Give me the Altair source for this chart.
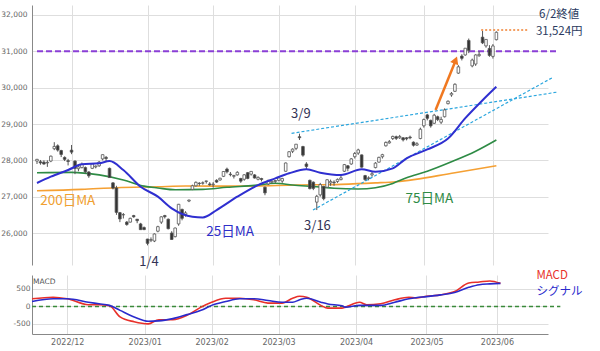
import altair as alt
import pandas as pd

# ---------------- data (trading-day index: 0 = 2022/12/01) ----------------
first_idx = -10
# Nov 2022 (10), Dec (22), Jan (19), Feb (19), Mar (22), Apr (20), May (20), Jun (2)
opens = [27980, 27960, 27950, 27930, 27980, 28320, 28400, 28270, 28080, 27990,
         28280, 27980, 27770, 27800, 27800, 27680, 27780, 27820, 27850, 28040, 28080, 27780, 27380, 27240, 26560, 26500, 26300, 26300, 26480, 26380, 26250, 26150,
         25834, 25800, 25780, 26050, 26300, 26480, 26380, 26000, 25900, 26250, 26650, 26500, 26880, 27200, 27300, 27370, 27370, 27420, 27350,
         27330, 27450, 27460, 27560, 27760, 27620, 27560, 27600, 27500, 27480, 27660, 27620, 27600, 27480, 27500, 27260, 27350, 27400, 27420,
         27450, 27430, 27700, 28100, 28250, 28330, 28650, 28380, 27900, 27450, 27400, 26850, 27050, 27280, 27260, 27380, 27400, 27420, 27470, 27700, 27850, 27900,
         28100, 28200, 28150, 27580, 27500, 27600, 27800, 27950, 28100, 28400, 28480, 28600, 28650, 28620, 28620, 28620, 28640, 28500, 28420, 28600,
         28950, 29250, 29100, 29020, 29200, 29050, 29200, 29560, 29800, 29900, 30400, 30870, 30900, 31300, 30600, 30650, 30880, 31390, 31150, 31080,
         30860, 31320]
highs = [28040, 28010, 28000, 28000, 28130, 28500, 28440, 28290, 28110, 28040,
         28423, 28000, 27880, 27940, 27830, 27700, 27920, 27860, 27980, 28160, 28120, 27800, 27400, 27300, 26580, 26550, 26330, 26420, 26500, 26380, 26280, 26180,
         25840, 25880, 25990, 26200, 26460, 26500, 26400, 26050, 26150, 26800, 26670, 26600, 26920, 27330, 27420, 27400, 27420, 27440, 27400,
         27400, 27480, 27520, 27700, 27800, 27680, 27600, 27700, 27520, 27620, 27680, 27700, 27620, 27560, 27520, 27280, 27460, 27450, 27460,
         27560, 27520, 27940, 28250, 28330, 28450, 28734, 28400, 27950, 27470, 27420, 27050, 27380, 27300, 27480, 27470, 27450, 27500, 27600, 27900, 27870, 28060,
         28230, 28320, 28160, 27600, 27560, 27700, 27950, 28100, 28180, 28520, 28560, 28680, 28680, 28700, 28640, 28640, 28680, 28520, 28500, 28900,
         29150, 29280, 29120, 29280, 29230, 29200, 29430, 29650, 29880, 30120, 30620, 30920, 31090, 31352, 30800, 30920, 31000, 31560, 31330, 31170,
         31200, 31550]
lows = [27900, 27880, 27880, 27820, 27950, 28280, 28240, 28090, 27980, 27860,
        28170, 27620, 27700, 27780, 27640, 27520, 27760, 27780, 27820, 28000, 27980, 27520, 27200, 26500, 26300, 26400, 26200, 26290, 26420, 26270, 26090, 26080,
        25661, 25750, 25750, 26020, 26250, 26400, 26100, 25810, 25880, 26200, 26350, 26450, 26850, 27180, 27280, 27300, 27330, 27360, 27300,
        27250, 27380, 27440, 27540, 27640, 27560, 27500, 27580, 27380, 27440, 27480, 27580, 27500, 27450, 27420, 27040, 27320, 27370, 27380,
        27420, 27380, 27690, 28080, 28200, 28280, 28560, 28100, 27760, 27200, 27180, 26632, 27000, 26900, 27240, 27300, 27300, 27380, 27450, 27680, 27700, 27880,
        28050, 28150, 27800, 27430, 27450, 27550, 27780, 27940, 28050, 28380, 28460, 28560, 28560, 28590, 28520, 28550, 28580, 28380, 28400, 28580,
        28900, 29100, 28900, 29000, 29080, 29000, 29180, 29540, 29750, 29880, 30380, 30750, 30880, 30950, 30560, 30600, 30850, 31200, 31100, 30850,
        30800, 31300]
closes = [28028, 27930, 27899, 27944, 28115, 28383, 28283, 28162, 28027, 27968,
          28226, 27777, 27820, 27885, 27686, 27574, 27901, 27842, 27954, 28156, 28051, 27527, 27237, 26568, 26387, 26507, 26235, 26405, 26447, 26340, 26093, 26094,
          25716, 25820, 25973, 26175, 26446, 26449, 26119, 25822, 26138, 26791, 26405, 26553, 26906, 27299, 27395, 27362, 27382, 27433, 27327,
          27346, 27402, 27509, 27693, 27685, 27606, 27584, 27670, 27427, 27602, 27501, 27696, 27513, 27531, 27473, 27104, 27453, 27423, 27445,
          27516, 27498, 27927, 28237, 28309, 28444, 28623, 28143, 27832, 27222, 27229, 27010, 27333, 26945, 27466, 27419, 27385, 27476, 27518, 27883, 27782, 28041,
          28188, 28287, 27813, 27472, 27518, 27633, 27923, 28082, 28156, 28493, 28514, 28658, 28606, 28657, 28564, 28593, 28620, 28416, 28457, 28856,
          29123, 29157, 28949, 29242, 29122, 29126, 29388, 29626, 29842, 30093, 30573, 30808, 31086, 31025, 30760, 30900, 30916, 31233, 31328, 30887,
          31148, 31524]
idx = list(range(first_idx, first_idx + len(closes)))

tick_idx = [0, 22, 41, 60, 82, 102, 122]
tick_lab = ["2022/12", "2023/01", "2023/02", "2023/03", "2023/04", "2023/05", "2023/06"]
price_ticks = [26000, 27000, 28000, 29000, 30000, 31000, 32000]
price_tick_lab = ["26,000", "27,000", "28,000", "29,000", "30,000", "31,000", "32,000"]

ma25_i = [-10, -6, -1, 3, 8, 11, 15, 20, 25, 29, 35, 38, 42, 48, 54, 59, 63, 68, 72, 78, 84, 88, 93, 97, 103, 109, 114, 119, 123]
ma25_v = [27376, 27550, 27734, 27890, 27918, 27981, 27734, 27274, 27000, 26680, 26448, 26430, 26633, 27000, 27320, 27505, 27643, 27753,
          27660, 27596, 27753, 27687, 27780, 28056, 28300, 28600, 29160, 29655, 30027]
ma75_i = [-10, 0, 8, 15, 21, 25, 30, 38, 45, 53, 59, 64, 71, 76, 83, 88, 93, 97, 103, 110, 117, 123]
ma75_v = [27660, 27670, 27600, 27460, 27290, 27240, 27190, 27200, 27260, 27310, 27370, 27320, 27274, 27230, 27210, 27246, 27366,
          27520, 27700, 27960, 28250, 28560]
ma200_i = [-10, 3, 13, 25, 33, 50, 65, 78, 88, 94, 111, 123]
ma200_v = [27165, 27202, 27247, 27274, 27293, 27290, 27320, 27340, 27380, 27412, 27660, 27853]

macd_i = [-10, -4, 0, 6, 9, 12, 15, 19, 23, 26, 30, 34, 38, 41, 45, 49, 53, 57, 61, 64, 66, 68, 72, 74, 78, 79,
          83, 85, 89, 93, 97, 99, 102, 106, 110, 114, 117, 120, 123]
macd_v = [218, 263, 218, 48, 48, 17, -300, -440, -500, -380, -380, -255, -20, 120, 235, 235, 190, 95, 95, 235, 290, 263,
          30, -50, -50, -20, 120, 48, 75, 190, 263, 245, 290, 330, 425, 670, 700, 730, 660]
signal_v = [140, 218, 218, 120, 75, 30, -113, -300, -425, -415, -350, -235, -113, 30, 140, 218, 218, 170, 120, 120, 190, 235,
            120, 70, 17, -20, 30, 30, 30, 120, 218, 250, 280, 330, 400, 547, 623, 645, 660]

trend_a_i = [63.7, 140.8]
trend_a_v = [28744, 29880]
trend_b_i = [69.9, 139.4]
trend_b_v = [26632, 30285]
level_v = 31000
level_i = [-10, 140.5]
close_mark_v = 31590
close_mark_i = [118.6, 132.2]
arrow_i = [105.4, 111.0]
arrow_v = [29385, 30700]
arrow_head_i = 111.2
arrow_head_v = 30760
zero_i = [-10, 140]

ann_text = ["6/2終値", "31,524円", "3/9", "3/16", "1/4", "25日MA", "200日MA", "75日MA"]
ann_i = [141.2, 141.2, 66.4, 71.2, 22.4, 45.9, -1.1, 103.6]
ann_v = [32000, 31532, 29275, 26192, 25201, 26027, 26880, 26935]
ann_color = ["#2a3a60", "#2a3a60", "#333355", "#333355", "#333355", "#2f2fc8", "#f0a030", "#2e8b45"]
ann_size = [11.5, 11.5, 13, 13, 13, 13.5, 13.5, 13.5]

leg_text = ["MACD", "シグナル"]
leg_i = [133.2, 133.2]
leg_v = [880, 410]
leg_color = ["#e8302a", "#2a2acc"]

# ---------------- encodings ----------------
JP = "Noto Sans CJK JP"
AX = "DejaVu Sans"
xscale = alt.Scale(domain=[-10, 136.5], nice=False, zero=False)
label_expr = " : ".join(f"datum.value == {i} ? '{l}'" for i, l in zip(tick_idx, tick_lab)) + " : ''"
ylabel_expr = " : ".join(f"datum.value == {i} ? '{l}'" for i, l in zip(price_ticks, price_tick_lab)) + " : ''"
x_main_axis = alt.Axis(values=tick_idx, labels=False, ticks=False, domain=False, grid=True, title=None)
x_macd_axis = alt.Axis(values=tick_idx, labelExpr=label_expr, ticks=False, domain=True, grid=True,
                       title=None, labelPadding=4)
ymain_scale = alt.Scale(domain=[25120, 32275], nice=False, zero=False)
ymain_axis = alt.Axis(values=price_ticks, labelExpr=ylabel_expr, ticks=False, grid=True, title=None,
                      labelPadding=5, labelFontSize=7.5, minExtent=30, maxExtent=30)
ymacd_scale = alt.Scale(domain=[-790, 900], nice=False, zero=False)
ymacd_axis = alt.Axis(values=[-500, 0, 500], labelExpr="'' + datum.value", ticks=False, grid=True, title=None,
                      labelPadding=2, labelFontSize=7.5, minExtent=30, maxExtent=30)


def XM(f="i"):
    return alt.X(f"{f}:Q", scale=xscale, axis=x_main_axis)


def YM(f="v"):
    return alt.Y(f"{f}:Q", scale=ymain_scale, axis=ymain_axis)


def XD(f="i"):
    return alt.X(f"{f}:Q", scale=xscale, axis=x_macd_axis)


def YD(f="v"):
    return alt.Y(f"{f}:Q", scale=ymacd_scale, axis=ymacd_axis)


# ---------------- main panel ----------------
candles = pd.DataFrame({"i": idx, "o": opens, "h": highs, "l": lows, "c": closes})

level = alt.Chart(pd.DataFrame({"i": [level_i[0]], "i2": [level_i[1]], "v": [level_v]})).mark_rule(
    color="#8a3fd6", strokeDash=[6, 3], strokeWidth=2, clip=False
).encode(x=XM(), x2=alt.X2("i2"), y=YM())

close_mark = alt.Chart(pd.DataFrame({"i": [close_mark_i[0]], "i2": [close_mark_i[1]], "v": [close_mark_v]})).mark_rule(
    color="#f08030", strokeDash=[2, 2], strokeWidth=1.5, clip=False
).encode(x=XM(), x2=alt.X2("i2"), y=YM())


def ma_line(ii, vv, color, w):
    return alt.Chart(pd.DataFrame({"i": ii, "v": vv})).mark_line(
        color=color, strokeWidth=w, interpolate="monotone"
    ).encode(x=XM(), y=YM())


ma200 = ma_line(ma200_i, ma200_v, "#f5a033", 1.6)
ma75 = ma_line(ma75_i, ma75_v, "#2e8b45", 1.6)
ma25 = ma_line(ma25_i, ma25_v, "#2f2fd0", 2)

trend_df = pd.DataFrame({"i": trend_a_i + trend_b_i, "v": trend_a_v + trend_b_v, "g": ["a", "a", "b", "b"]})
trend = alt.Chart(trend_df).mark_line(color="#2ba6de", strokeDash=[3, 2], strokeWidth=1.2, clip=False).encode(
    x=XM(), y=YM(), detail="g:N")

wicks = alt.Chart(candles).mark_rule(color="#555555", strokeWidth=1).encode(x=XM(), y=YM("l"), y2=alt.Y2("h"))
bodies = alt.Chart(candles).mark_bar(width=2.6, stroke="#555555", strokeWidth=0.8).encode(
    x=XM(), y=YM("o"), y2=alt.Y2("c"),
    fill=alt.condition("datum.c >= datum.o", alt.value("#ffffff"), alt.value("#333333")))

arrow_line = alt.Chart(pd.DataFrame({"i": arrow_i, "v": arrow_v})).mark_line(
    color="#f07820", strokeWidth=2.5).encode(x=XM(), y=YM())
arrow_head = alt.Chart(pd.DataFrame({"i": [arrow_head_i], "v": [arrow_head_v]})).mark_point(
    shape="triangle-up", filled=True, size=75, angle=22, color="#f07820", opacity=1).encode(x=XM(), y=YM())

ann_df = pd.DataFrame({"i": ann_i, "v": ann_v, "t": ann_text, "col": ann_color, "s": ann_size})
ann = alt.Chart(ann_df).mark_text(font=JP, align="center", baseline="middle").encode(
    x=XM(), y=YM(), text="t:N", color=alt.Color("col:N", scale=None), size=alt.Size("s:Q", scale=None))

main = alt.layer(level, ma200, ma75, trend, wicks, bodies, ma25, close_mark, arrow_line, arrow_head, ann).properties(
    width=516, height=260)

# ---------------- MACD panel ----------------
zero = alt.Chart(pd.DataFrame({"i": [zero_i[0]], "i2": [zero_i[1]], "v": [0]})).mark_rule(
    color="#3a8a3a", strokeDash=[4, 3], strokeWidth=1.5, clip=False).encode(x=XD(), x2=alt.X2("i2"), y=YD())
macd_df = pd.DataFrame({"i": macd_i, "v": macd_v})
sig_df = pd.DataFrame({"i": macd_i, "v": signal_v})
sig_line = alt.Chart(sig_df).mark_line(color="#2a2acc", strokeWidth=1.6, interpolate="monotone").encode(x=XD(), y=YD())
macd_line = alt.Chart(macd_df).mark_line(color="#e8302a", strokeWidth=1.6, interpolate="monotone").encode(x=XD(), y=YD())
leg_df = pd.DataFrame({"i": leg_i, "v": leg_v, "t": leg_text, "col": leg_color})
leg = alt.Chart(leg_df).mark_text(font=JP, fontSize=11.5, align="left", baseline="middle").encode(
    x=XD(), y=YD(), text="t:N", color=alt.Color("col:N", scale=None))
tag = alt.Chart(pd.DataFrame({"i": [-9.7], "v": [708], "t": ["MACD"]})).mark_text(
    font=AX, fontSize=7.5, align="left", baseline="middle", color="#555555").encode(x=XD(), y=YD(), text="t:N")

macd = alt.layer(zero, macd_line, sig_line, leg, tag).properties(width=516, height=59)

chart = alt.vconcat(main, macd, spacing=10, bounds="flush").properties(
    padding={"left": 0, "top": 5, "right": 4, "bottom": 2}, background="white"
).configure_view(stroke=None).configure_axis(
    gridColor="#dedede", domainColor="#888888", labelColor="#666666", labelFont=AX, labelFontSize=8
)

chart.save("out.html", embed_options={"renderer": "svg", "actions": False})
